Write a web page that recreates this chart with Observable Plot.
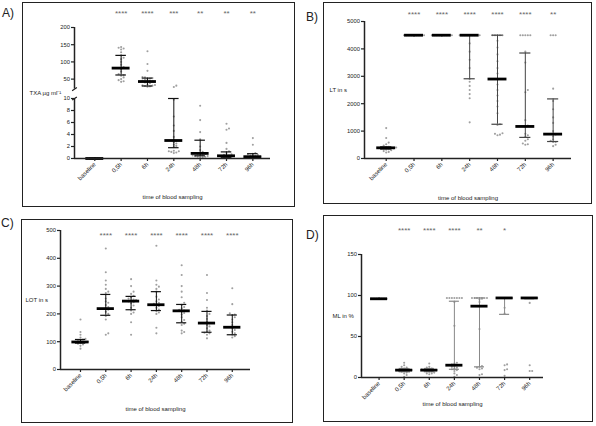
<!DOCTYPE html>
<html><head><meta charset="utf-8">
<script src="https://cdn.jsdelivr.net/npm/d3@7"></script>
<script src="https://cdn.jsdelivr.net/npm/@observablehq/plot@0.6"></script>
<style>
html,body{margin:0;padding:0;background:#fff;}
#root{position:relative;width:596px;height:426px;overflow:hidden;font-family:"Liberation Sans",Arial,sans-serif;}
.panel{position:absolute;}
.panel svg{position:absolute;left:0;top:0;}
.box{position:absolute;left:0;top:0;right:0;bottom:0;border:1.5px solid #222;box-sizing:border-box;pointer-events:none;}
.tag{position:absolute;font-size:12px;line-height:12px;color:#222;}
</style></head><body><div id="root"></div>
<script>
const categories = ["baseline","0,5h","6h","24h","48h","72h","96h"];
const xTitle = "time of blood sampling";
const rep = (v, n) => Array.from({length: n}, () => v);

// ---- A) TXA ----
const txaTitle = "TXA \u00b5g ml\u207b\u00b9";
const txaTicks = [0, 2, 4, 6, 8, 10, 50, 100, 150, 200];
const txaBreaks = [0, 10, 21, 200];        // broken axis: 0-10 | 21-200
const txaMedian = [0, 82, 43, 3.0, 0.85, 0.45, 0.3];
const txaLow    = [0, 62, 30, 1.8, 0.45, 0.2, 0.1];
const txaHigh   = [0, 119, 53, 10, 3.05, 1.1, 0.8];
const txaStars  = ["", "****", "****", "***", "**", "**", "**"];
const txaPoints = [
  rep(0, 19),
  [143, 141, 139, 136, 128, 119, 112, 108, 100, 92, 85, 80, 72, 65, 62, 60, 55, 50, 47, 44, 42],
  [131, 94, 74, 56, 55, 53, 52, 50, 48, 46, 45, 44, 42, 40, 38, 35, 33, 32, 31, 30, 29, 28],
  [31, 27, 9.8, 7.0, 5.5, 4.6, 3.6, 3.1, 2.9, 2.7, 2.5, 2.3, 2.1, 1.9, 1.3, 1.2, 1.2, 1.1, 1.0, 0.9],
  [8.8, 6.4, 4.4, 3.2, 2.0, 1.4, 1.1, 0.9, 0.8, 0.7, 0.6, 0.5, 0.5, 0.4, 0.4, 0.3, 0.3, 0.2, 0.2],
  [5.8, 5.0, 4.8, 2.6, 1.6, 1.2, 0.9, 0.7, 0.6, 0.5, 0.5, 0.4, 0.4, 0.3, 0.3, 0.2, 0.2, 0.1],
  [3.4, 2.3, 0.9, 0.8, 0.7, 0.6, 0.5, 0.4, 0.4, 0.3, 0.3, 0.2, 0.2, 0.1, 0.1, 0.1]
];

// ---- B) LT ----
const ltTitle = "LT in s";
const ltTicks = [0, 1000, 2000, 3000, 4000, 5000];
const ltDomain = [0, 5000];
const ltMedian = [390, 4500, 4500, 4500, 2900, 1170, 890];
const ltLow    = [340, 4500, 4500, 2910, 1250, 770, 620];
const ltHigh   = [430, 4500, 4500, 4500, 4500, 3850, 2175];
const ltStars  = ["", "****", "****", "****", "****", "****", "**"];
const ltPoints = [
  [1110, 750, 580, 520, 470, 430, 410, 400, 390, 380, 370, 360, 350, 340, 320, 300, 270, 240, 220],
  rep(4500, 20),
  rep(4500, 20),
  [...rep(4500, 9), 4200, 3900, 3600, 3300, 2900, 2800, 2650, 2500, 2350, 2200, 1320],
  [...rep(4500, 5), 4300, 4050, 3800, 3550, 3300, 3100, 2700, 2500, 2300, 2100, 1900, 1650, 1250, 1220, 920, 900, 870, 850],
  [...rep(4500, 5), 3900, 3500, 2500, 2420, 1400, 1200, 1150, 900, 850, 800, 700, 650, 550, 520, 500],
  [...rep(4500, 3), 2550, 2100, 1800, 1500, 1300, 1000, 900, 880, 800, 700, 650, 600, 600, 500, 450]
];

// ---- C) LOT ----
const lotTitle = "LOT in s";
const lotTicks = [0, 100, 200, 300, 400, 500];
const lotDomain = [0, 500];
const lotMedian = [99, 219, 246, 233, 211, 167, 152];
const lotLow    = [95, 195, 215, 212, 168, 134, 125];
const lotHigh   = [108, 270, 263, 280, 234, 209, 196];
const lotStars  = ["", "****", "****", "****", "****", "****", "****"];
const lotPoints = [
  [180, 135, 125, 115, 110, 108, 105, 102, 100, 99, 98, 97, 95, 93, 90, 85, 75],
  [435, 350, 320, 305, 290, 280, 275, 255, 245, 240, 232, 225, 220, 215, 208, 200, 192, 180, 130, 125],
  [325, 300, 280, 272, 265, 260, 255, 252, 250, 247, 245, 242, 238, 230, 222, 212, 205, 200, 170, 125],
  [445, 320, 305, 298, 290, 280, 262, 252, 245, 240, 236, 232, 228, 222, 216, 210, 205, 200, 150, 130],
  [375, 340, 300, 280, 260, 240, 232, 225, 220, 215, 212, 208, 203, 198, 188, 178, 172, 165, 160, 140, 135, 130],
  [340, 275, 250, 222, 212, 200, 192, 182, 172, 166, 160, 155, 148, 140, 136, 132, 130, 125, 112],
  [292, 235, 202, 198, 195, 188, 180, 170, 160, 152, 148, 142, 136, 130, 125, 120, 115]
];

// ---- D) ML ----
const mlTitle = "ML in %";
const mlTicks = [0, 50, 100, 150];
const mlDomain = [0, 150];
const mlMedian = [96, 9, 9, 15, 87, 97, 97];
const mlLow    = [96, 7, 7, 10, 13, 77, 96];
const mlHigh   = [96, 11, 11, 93, 97, 97, 97];
const mlStars  = ["", "****", "****", "****", "**", "*", ""];
const mlPoints = [
  rep(96, 18),
  [18, 15, 13, 12, 11, 10, 10, 9, 9, 9, 8, 8, 7, 7, 6, 5, 3, 1],
  [17, 13, 12, 11, 10, 10, 9, 9, 9, 8, 8, 7, 6, 5, 5, 4],
  [...rep(97, 7), 92, 63, 18, 17, 16, 15, 14, 13, 12, 11, 10, 9, 8, 5, 3, 1],
  [...rep(97, 7), 96, 95, 92, 59, 14, 13, 12, 11, 10, 4, 3],
  [...rep(97, 10), 85, 78, 16, 15, 10, 9, 2],
  [...rep(97, 12), 91, 15, 8, 8]
];

// ------------------------------------------------------------
const FONT = '"Liberation Sans", Arial, sans-serif';
const root = document.getElementById("root");

function swarm(values, i, ys, pxPerUnit, maxHalf) {
  const s = 2.5, minD = 2.3;
  const placed = [], out = [];
  const sorted = values.slice().sort((a, b) => a - b);
  for (const v of sorted) {
    const py = ys(v);
    let best = 0, bestScore = -1, done = false;
    for (let k = 0; k * s <= maxHalf && !done; k++) {
      const cands = k === 0 ? [0] : [k * s, -k * s];
      for (const dx of cands) {
        let md = Infinity;
        for (const p of placed) md = Math.min(md, Math.hypot(p.dx - dx, p.py - py));
        if (md >= minD) { best = dx; done = true; break; }
        if (md > bestScore) { bestScore = md; best = dx; }
      }
    }
    placed.push({dx: best, py});
    out.push({x: i + best / pxPerUnit, y: v});
  }
  return out;
}

function makePanel(cfg) {
  const {box, m, padL, padR, yDomain, ticks, median, low, high, stars, points,
         title, titleDx, starDy, xTitleDy, errColor, tag} = cfg;
  const tf = cfg.tf || (v => v);                 // value -> axis units
  const [bx, by, w, h] = box;
  const xDomain = [-padL, 6 + padR];
  const yDom = [tf(yDomain[0]), tf(yDomain[yDomain.length - 1])];
  const ys = d3.scaleLinear().domain(yDom).range([h - m.bottom, m.top]);
  const pxPerUnit = (w - m.left - m.right) / (xDomain[1] - xDomain[0]);
  const pts = points.flatMap((vals, i) => swarm(vals.map(tf), i, ys, pxPerUnit, 0.36 * pxPerUnit));
  const summary = categories.map((c, i) => ({i, med: tf(median[i]), lo: tf(low[i]), hi: tf(high[i])}));
  const starData = stars.map((s, i) => ({i, s}));
  const tickPos = ticks.map(tf);
  const tickLabel = new Map(ticks.map(t => [tf(t), String(t)]));
  const segs = cfg.segments ? cfg.segments.map(([a, b]) => [tf(a), tf(b)]) : null;

  const marks = [
    Plot.dot(pts, {x: "x", y: "y", r: 1.05, fill: "#a0a0a0"}),
    Plot.ruleX(summary, {x: "i", y1: "lo", y2: "hi", stroke: errColor, strokeWidth: 1}),
    Plot.ruleY(summary, {x1: d => d.i - 0.2, x2: d => d.i + 0.2, y: "lo", stroke: errColor, strokeWidth: 1.2}),
    Plot.ruleY(summary, {x1: d => d.i - 0.2, x2: d => d.i + 0.2, y: "hi", stroke: errColor, strokeWidth: 1.2}),
    Plot.ruleY(summary, {x1: d => d.i - 0.34, x2: d => d.i + 0.34, y: "med", stroke: "#000", strokeWidth: 2.8}),
    segs
      ? Plot.ruleX(segs, {x: () => xDomain[0], y1: d => d[0], y2: d => d[1], stroke: "#222", strokeWidth: 1.5})
      : Plot.ruleX([xDomain[0]], {stroke: "#222", strokeWidth: 1.5}),
    Plot.ruleY([yDom[0]], {stroke: "#222", strokeWidth: 1.5}),
    Plot.axisY({ticks: tickPos, tickFormat: d => tickLabel.get(d), tickSize: 3, tickPadding: 1.5,
                fontSize: 5.8, label: null, stroke: "#222", strokeWidth: 1.2}),
    Plot.axisX({ticks: d3.range(7), tickFormat: i => categories[i], tickRotate: -45, tickSize: 3,
                tickPadding: 2, fontSize: 6, label: null, stroke: "#222", strokeWidth: 1.2}),
    Plot.text(starData, {x: "i", text: "s", frameAnchor: "top", dy: starDy, fontSize: 8, fill: "#666"}),
    Plot.text([title], {frameAnchor: "left", dx: titleDx, textAnchor: "start", fontSize: 6, fill: "#222"}),
    Plot.text([xTitle], {frameAnchor: "bottom", dy: xTitleDy, fontSize: 6, fill: "#222"})
  ];
  if (segs) {
    // small slanted break marks at both ends of the gap
    const bk = [segs[0][1], segs[1][0]];
    const sx = 0.09 * (xDomain[1] - xDomain[0]) / 7.4;
    marks.push(Plot.link(bk, {x1: () => xDomain[0] - sx, x2: () => xDomain[0] + sx,
                              y1: d => d - 1.6, y2: d => d + 1.6, stroke: "#222", strokeWidth: 1.2}));
  }

  const plot = Plot.plot({
    width: w, height: h,
    marginLeft: m.left, marginRight: m.right, marginTop: m.top, marginBottom: m.bottom,
    x: {domain: xDomain},
    y: {domain: yDom},
    style: {fontFamily: FONT, background: "transparent", color: "#222"},
    marks
  });

  const div = document.createElement("div");
  div.className = "panel";
  Object.assign(div.style, {left: bx + "px", top: by + "px", width: w + "px", height: h + "px"});
  div.appendChild(plot);
  const b = document.createElement("div");
  b.className = "box";
  div.appendChild(b);
  root.appendChild(div);

  const t = document.createElement("div");
  t.className = "tag";
  t.textContent = tag.text;
  Object.assign(t.style, {left: tag.x + "px", top: tag.y + "px"});
  root.appendChild(t);
}

// A: broken axis, value -> pixel-height above the x axis (0-10 lower part, 21-200 upper part)
const txaTf = d3.scaleLinear().domain(txaBreaks).range([0, 60, 69.4, 131]);
makePanel({
  box: [22, 2, 273, 205], m: {left: 52, right: 25, top: 25, bottom: 49},
  padL: 0.77, padR: 0.67, tf: txaTf,
  yDomain: [txaBreaks[0], txaBreaks[3]],
  segments: [[txaBreaks[0], txaBreaks[1]], [txaBreaks[2], txaBreaks[3]]],
  ticks: txaTicks, median: txaMedian, low: txaLow, high: txaHigh, stars: txaStars, points: txaPoints,
  title: txaTitle, titleDx: -45, starDy: -17, xTitleDy: 40, errColor: "#111",
  tag: {text: "A)", x: 2, y: 7}
});
// B
makePanel({
  box: [323, 2, 269, 202], m: {left: 41, right: 21, top: 19, bottom: 46},
  padL: 0.78, padR: 0.66,
  yDomain: ltDomain, ticks: ltTicks, median: ltMedian, low: ltLow, high: ltHigh, stars: ltStars, points: ltPoints,
  title: ltTitle, titleDx: -35, starDy: -10, xTitleDy: 41, errColor: "#444",
  tag: {text: "B)", x: 306, y: 11}
});
// C
makePanel({
  box: [21, 219, 272, 204], m: {left: 39, right: 43, top: 11, bottom: 54},
  padL: 0.79, padR: 0.72,
  yDomain: lotDomain, ticks: lotTicks, median: lotMedian, low: lotLow, high: lotHigh, stars: lotStars, points: lotPoints,
  title: lotTitle, titleDx: -35, starDy: 2, xTitleDy: 41, errColor: "#111",
  tag: {text: "C)", x: 1, y: 217}
});
// D
makePanel({
  box: [323, 215, 270, 207], m: {left: 38, right: 50, top: 39, bottom: 45},
  padL: 0.7, padR: 0.55,
  yDomain: mlDomain, ticks: mlTicks, median: mlMedian, low: mlLow, high: mlHigh, stars: mlStars, points: mlPoints,
  title: mlTitle, titleDx: -29, starDy: -27, xTitleDy: 28, errColor: "#888",
  tag: {text: "D)", x: 306, y: 229}
});
</script></body></html>
